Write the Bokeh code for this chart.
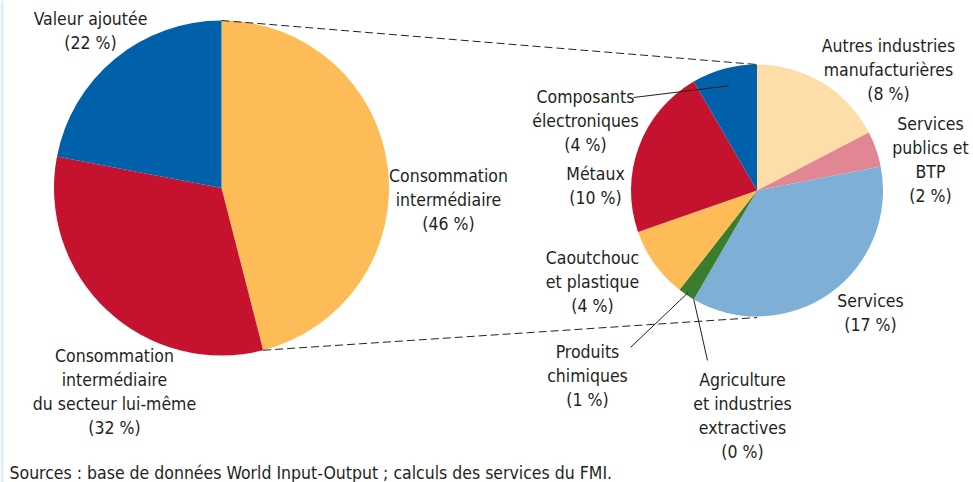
import numpy as np
from bokeh.plotting import figure
from bokeh.models import ColumnDataSource, Range1d
from bokeh.core.properties import value
from bokeh.embed import file_html
from bokeh.resources import INLINE

# ---------------- data ----------------
left_names = ["Consommation intermédiaire",
              "Consommation intermédiaire du secteur lui-même",
              "Valeur ajoutée"]
left_values = [46, 32, 22]
left_colors = ["#FDBC57", "#C4122F", "#0060A9"]

right_names = ["Autres industries manufacturières", "Services publics et BTP",
               "Services", "Agriculture et industries extractives",
               "Produits chimiques", "Caoutchouc et plastique",
               "Métaux", "Composants électroniques"]
right_values = [8.0, 2.1, 16.75, 0.0, 1.0, 4.2, 10.1, 3.85]
right_pct_labels = ["(8 %)", "(2 %)", "(17 %)", "(0 %)", "(1 %)", "(4 %)", "(10 %)", "(4 %)"]
right_colors = ["#FDDDA8", "#E08793", "#7EAFD7", "#8A6E3B", "#3A7D2F",
                "#FDBC57", "#C4122F", "#0060A9"]

source_note = "Sources : base de données World Input-Output ; calculs des services du FMI."

# ---------------- layout ----------------
W, H = 973, 482
FONT = value("DejaVu Sans Condensed")
FS = "17.5px"
TXT = "#231F20"


def fx(rx):
    return rx


def fy(ry):
    return H - ry


LC = (fx(221), fy(187.5)); LR = 167.5
RC = (fx(756.5), fy(190)); RR = 126


def wedges(vals):
    v = np.asarray(vals, dtype=float)
    c = np.concatenate([[0], np.cumsum(v)]) / v.sum()
    start = np.pi / 2 - 2 * np.pi * c[1:]
    end = np.pi / 2 - 2 * np.pi * c[:-1]
    return start, end


p = figure(width=W, height=H, x_range=Range1d(0, W), y_range=Range1d(0, H),
           x_axis_type=None, y_axis_type=None, toolbar_location=None,
           output_backend="svg", min_border=0)
p.grid.visible = False
p.outline_line_color = None
p.background_fill_color = "white"

# thin light strip at the left edge of the reference frame
p.quad(left=0, right=3, bottom=0, top=H, fill_color="#E4EDF7", line_color=None)

# left pie
ls, le = wedges(left_values)
p.wedge(x=LC[0], y=LC[1], radius=LR, start_angle=ls, end_angle=le,
        fill_color=left_colors, line_color=None)

# right pie
rs, re = wedges(right_values)
mask = np.asarray(right_values) > 0
p.wedge(x=RC[0], y=RC[1], radius=RR,
        start_angle=rs[mask], end_angle=re[mask],
        fill_color=[c for c, m in zip(right_colors, mask) if m], line_color=None)

# dashed connectors
a_end = ls[0]
p.line([LC[0], RC[0]], [LC[1] + LR, RC[1] + RR], line_dash="8 4",
       line_color="#222222", line_width=1)
p.line([LC[0] + LR * np.cos(a_end), RC[0]], [LC[1] + LR * np.sin(a_end), RC[1] - RR - 1],
       line_dash="8 4", line_color="#222222", line_width=1)


def slice_pt(i, frac_r, frac_a):
    a = re[i] + (rs[i] - re[i]) * frac_a
    return RC[0] + RR * frac_r * np.cos(a), RC[1] + RR * frac_r * np.sin(a)


leaders = [(7, 0.86, 0.5, (633, 97)), (4, 0.98, 0.5, (630, 347)), (3, 1.0, 0.5, (707, 360))]
for i, fr, fa, (ex, ey) in leaders:
    sx, sy = slice_pt(i, fr, fa)
    p.line([sx, fx(ex)], [sy, fy(ey)], line_color=TXT, line_width=1)

# labels
labels = [
    (["Valeur ajoutée", "(22 %)"], 90, 18),
    (["Consommation", "intermédiaire", "(46 %)"], 448, 175),
    (["Consommation", "intermédiaire", "du secteur lui-même", "(32 %)"], 114, 355),
    (["Composants", "électroniques", right_pct_labels[7]], 585, 96),
    (["Métaux", right_pct_labels[6]], 595, 173),
    (["Caoutchouc", "et plastique", right_pct_labels[5]], 592, 257),
    (["Produits", "chimiques", right_pct_labels[4]], 587, 351),
    (["Agriculture", "et industries", "extractives", right_pct_labels[3]], 742, 379),
    (["Autres industries", "manufacturières", right_pct_labels[0]], 888, 45),
    (["Services", "publics et", "BTP", right_pct_labels[1]], 930, 123),
    (["Services", right_pct_labels[2]], 870, 300),
]
xs, ys, ts = [], [], []
for lines, cx, ty in labels:
    for k, t in enumerate(lines):
        xs.append(fx(cx)); ys.append(fy(ty + 24.3 * k)); ts.append(t)
p.text(x=xs, y=ys, text=ts, text_font=FONT, text_font_size=FS,
       text_align="center", text_baseline="middle", text_color=TXT)

p.text(x=[fx(9)], y=[fy(472)], text=[source_note], text_font=FONT, text_font_size=FS,
       text_align="left", text_baseline="middle", text_color=TXT)

open("out.html", "w").write(file_html(p, INLINE))
